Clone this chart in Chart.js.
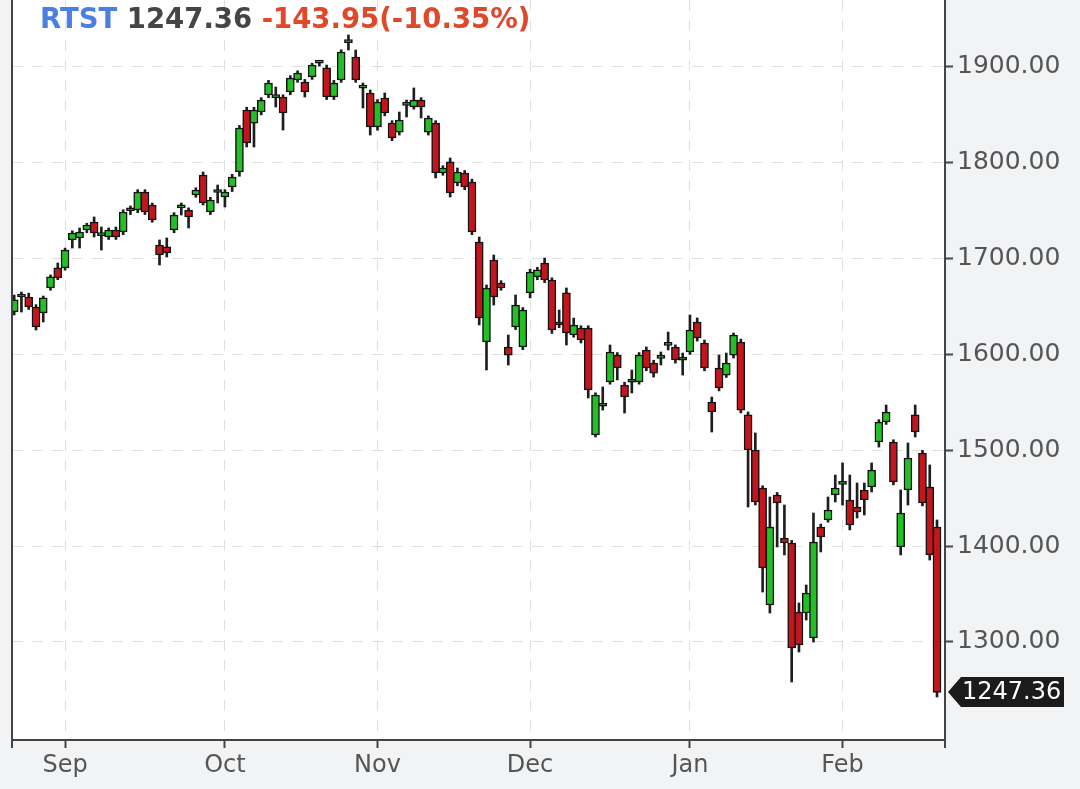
<!DOCTYPE html>
<html lang="en">

<head>
    <meta charset="UTF-8">
    <title>RTST</title>
    <script src="https://cdn.jsdelivr.net/npm/chart.js"></script>
    <style>
        html, body {
            margin: 0;
            padding: 0;
            background: #f2f3f5;
        }
        #wrap {
            width: 1080px;
            height: 789px;
        }
    </style>
</head>

<body>
    <div id="wrap">
        <canvas id="rtsChart" width="1080" height="789"></canvas>
    </div>
    <script>
        // trading days shown on the chart
        const dates = [
            '2021-08-23', '2021-08-24', '2021-08-25', '2021-08-26', '2021-08-27', '2021-08-30', '2021-08-31',
            '2021-09-01', '2021-09-02', '2021-09-03', '2021-09-06', '2021-09-07', '2021-09-08', '2021-09-09', '2021-09-10',
            '2021-09-13', '2021-09-14', '2021-09-15', '2021-09-16', '2021-09-17', '2021-09-20', '2021-09-21', '2021-09-22',
            '2021-09-23', '2021-09-24', '2021-09-27', '2021-09-28', '2021-09-29', '2021-09-30',
            '2021-10-01', '2021-10-04', '2021-10-05', '2021-10-06', '2021-10-07', '2021-10-08', '2021-10-11', '2021-10-12',
            '2021-10-13', '2021-10-14', '2021-10-15', '2021-10-18', '2021-10-19', '2021-10-20', '2021-10-21', '2021-10-22',
            '2021-10-25', '2021-10-26', '2021-10-27', '2021-10-28', '2021-10-29',
            '2021-11-01', '2021-11-02', '2021-11-03', '2021-11-05', '2021-11-08', '2021-11-09', '2021-11-10', '2021-11-11',
            '2021-11-12', '2021-11-15', '2021-11-16', '2021-11-17', '2021-11-18', '2021-11-19', '2021-11-22', '2021-11-23',
            '2021-11-24', '2021-11-25', '2021-11-26', '2021-11-29', '2021-11-30',
            '2021-12-01', '2021-12-02', '2021-12-03', '2021-12-06', '2021-12-07', '2021-12-08', '2021-12-09', '2021-12-10',
            '2021-12-13', '2021-12-14', '2021-12-15', '2021-12-16', '2021-12-17', '2021-12-20', '2021-12-21', '2021-12-22',
            '2021-12-23', '2021-12-24', '2021-12-27', '2021-12-28', '2021-12-29', '2021-12-30',
            '2022-01-03', '2022-01-04', '2022-01-05', '2022-01-06', '2022-01-07', '2022-01-10', '2022-01-11', '2022-01-12',
            '2022-01-13', '2022-01-14', '2022-01-17', '2022-01-18', '2022-01-19', '2022-01-20', '2022-01-21', '2022-01-24',
            '2022-01-25', '2022-01-26', '2022-01-27', '2022-01-28', '2022-01-31',
            '2022-02-01', '2022-02-02', '2022-02-03', '2022-02-04', '2022-02-07', '2022-02-08', '2022-02-09', '2022-02-10',
            '2022-02-11', '2022-02-14', '2022-02-15', '2022-02-16', '2022-02-17', '2022-02-18'
        ];

        const opens = [
            1644.3, 1660.0, 1660.0, 1649.5, 1643.3, 1669.4, 1690.3, 1690.3, 1719.5, 1721.6,
            1729.9, 1738.2, 1724.0, 1722.6, 1729.9, 1727.8, 1750.0, 1750.8, 1769.5, 1756.0,
            1714.2, 1712.2, 1729.9, 1753.0, 1750.8, 1766.4, 1787.3, 1748.7, 1769.0, 1764.3,
            1774.8, 1790.4, 1855.1, 1841.5, 1853.0, 1870.8, 1868.0, 1868.7, 1873.9, 1886.4,
            1884.3, 1889.6, 1904.0, 1899.0, 1868.7, 1886.4, 1925.5, 1910.4, 1878.0, 1872.9,
            1837.4, 1867.6, 1841.5, 1832.1, 1860.0, 1858.2, 1865.5, 1832.1, 1841.5, 1789.4,
            1800.9, 1778.9, 1789.4, 1780.0, 1717.4, 1613.0, 1698.6, 1674.6, 1607.8, 1628.7,
            1607.8, 1664.2, 1680.9, 1695.5, 1677.7, 1633.9, 1664.2, 1620.3, 1627.6, 1627.6,
            1516.0, 1546.0, 1571.3, 1599.4, 1568.1, 1571.0, 1571.3, 1604.7, 1591.1, 1596.0,
            1609.5, 1607.8, 1594.0, 1602.6, 1633.9, 1612.0, 1550.4, 1585.9, 1578.5, 1599.4,
            1613.0, 1536.9, 1500.3, 1460.7, 1338.6, 1453.4, 1408.5, 1403.3, 1331.3, 1330.2,
            1304.1, 1420.0, 1427.3, 1453.4, 1464.5, 1448.1, 1440.8, 1458.6, 1461.7, 1508.7,
            1529.5, 1508.7, 1399.1, 1458.6, 1536.9, 1497.2, 1461.7, 1420.0
        ];
        const highs = [
            1662.0, 1665.2, 1664.0, 1652.0, 1661.0, 1683.0, 1695.5, 1711.0, 1729.0, 1732.0,
            1737.0, 1743.5, 1733.0, 1732.0, 1733.0, 1751.0, 1755.0, 1772.0, 1772.0, 1758.0,
            1719.5, 1721.6, 1748.0, 1758.1, 1753.0, 1774.0, 1790.4, 1764.0, 1776.8, 1772.0,
            1788.0, 1839.0, 1858.0, 1858.0, 1868.0, 1886.0, 1879.1, 1871.0, 1891.0, 1896.0,
            1887.0, 1904.0, 1907.0, 1902.0, 1886.0, 1918.0, 1933.4, 1917.7, 1883.3, 1876.0,
            1866.0, 1872.9, 1844.0, 1853.0, 1865.5, 1878.1, 1868.0, 1849.0, 1844.0, 1797.0,
            1805.0, 1794.6, 1792.0, 1783.0, 1722.6, 1672.5, 1703.8, 1677.0, 1620.3, 1662.1,
            1649.0, 1689.0, 1691.0, 1700.7, 1680.0, 1646.4, 1669.4, 1638.0, 1630.0, 1630.0,
            1560.0, 1566.1, 1609.9, 1602.0, 1571.0, 1583.8, 1602.0, 1607.8, 1594.0, 1602.6,
            1623.4, 1610.0, 1601.5, 1641.2, 1638.1, 1615.0, 1555.6, 1599.4, 1601.5, 1622.4,
            1616.0, 1540.0, 1518.1, 1463.0, 1451.3, 1456.0, 1442.9, 1406.0, 1340.7, 1359.4,
            1434.6, 1423.0, 1451.3, 1474.2, 1486.8, 1474.2, 1465.9, 1465.9, 1486.8, 1532.0,
            1547.3, 1511.0, 1458.6, 1507.6, 1547.3, 1500.0, 1484.7, 1427.3
        ];
        const lows = [
            1641.2, 1644.3, 1647.0, 1625.5, 1633.9, 1667.0, 1678.0, 1688.0, 1711.1, 1711.1,
            1727.0, 1722.6, 1709.0, 1720.0, 1720.0, 1725.0, 1746.0, 1748.0, 1746.0, 1738.0,
            1693.4, 1701.7, 1727.0, 1745.5, 1732.0, 1764.0, 1756.0, 1746.0, 1758.1, 1753.9,
            1770.0, 1786.0, 1816.5, 1816.5, 1850.0, 1868.0, 1858.2, 1834.2, 1871.0, 1884.0,
            1868.7, 1887.0, 1901.0, 1866.0, 1866.0, 1884.0, 1917.7, 1884.0, 1857.2, 1829.0,
            1834.0, 1849.0, 1823.0, 1829.0, 1847.8, 1856.0, 1846.8, 1829.0, 1784.2, 1787.0,
            1764.3, 1776.0, 1772.0, 1725.0, 1630.8, 1583.8, 1651.6, 1667.0, 1589.0, 1626.0,
            1605.0, 1659.0, 1678.0, 1675.0, 1622.0, 1628.0, 1609.9, 1618.0, 1612.0, 1554.6,
            1513.9, 1542.0, 1569.0, 1573.4, 1538.9, 1559.8, 1569.0, 1583.0, 1576.4, 1589.0,
            1604.7, 1591.0, 1578.5, 1600.0, 1614.0, 1583.0, 1519.1, 1562.0, 1576.0, 1596.3,
            1539.0, 1440.8, 1443.0, 1352.1, 1330.2, 1399.1, 1390.8, 1258.2, 1289.5, 1322.9,
            1299.9, 1393.9, 1425.0, 1446.1, 1442.9, 1416.9, 1429.4, 1432.5, 1456.5, 1503.4,
            1527.0, 1464.0, 1390.8, 1442.9, 1513.9, 1442.0, 1385.5, 1242.6
        ];
        const closes = [
            1656.9, 1661.0, 1649.5, 1628.7, 1659.0, 1680.9, 1679.8, 1709.0, 1726.8, 1727.8,
            1735.1, 1726.8, 1725.0, 1729.9, 1722.6, 1748.7, 1751.0, 1769.5, 1748.7, 1740.3,
            1703.8, 1705.9, 1745.5, 1754.0, 1743.5, 1771.6, 1758.1, 1761.2, 1770.0, 1769.5,
            1785.2, 1836.3, 1820.7, 1855.1, 1865.5, 1883.3, 1869.0, 1852.0, 1888.5, 1893.7,
            1873.9, 1902.1, 1905.0, 1868.7, 1883.3, 1915.6, 1926.5, 1886.4, 1879.0, 1837.4,
            1863.5, 1852.0, 1825.9, 1844.7, 1861.0, 1865.5, 1858.2, 1846.8, 1789.4, 1794.6,
            1768.5, 1790.4, 1774.8, 1727.8, 1638.1, 1669.4, 1660.0, 1669.4, 1599.4, 1651.6,
            1646.4, 1686.1, 1688.2, 1677.7, 1625.5, 1630.8, 1622.4, 1630.8, 1615.1, 1562.9,
            1557.7, 1547.0, 1602.6, 1585.9, 1555.6, 1572.0, 1599.4, 1585.9, 1580.6, 1597.0,
            1610.5, 1594.2, 1595.0, 1625.5, 1617.2, 1585.9, 1540.0, 1565.0, 1591.1, 1620.3,
            1542.0, 1500.3, 1446.1, 1377.2, 1420.0, 1445.0, 1403.3, 1293.7, 1296.8, 1351.1,
            1404.3, 1409.5, 1437.7, 1460.7, 1465.5, 1422.1, 1435.6, 1448.1, 1479.4, 1529.5,
            1540.0, 1466.9, 1434.6, 1492.0, 1519.1, 1445.0, 1390.8, 1247.36
        ];

        const yTicks = [1300, 1400, 1500, 1600, 1700, 1800, 1900];
        const monthNames = ['Jan', 'Feb', 'Mar', 'Apr', 'May', 'Jun', 'Jul', 'Aug', 'Sep', 'Oct', 'Nov', 'Dec'];

        const symbol = 'RTST';
        const lastText = '1247.36';
        const changeText = '-143.95(-10.35%)';

        const FONT = 'DejaVu Sans';
        const UP = '#22c025';
        const DOWN = '#c3161c';

        // first trading day of each month gets a tick
        const monthStarts = [];
        dates.forEach((d, i) => {
            if (i > 0 && d.slice(5, 7) !== dates[i - 1].slice(5, 7)) monthStarts.push(i);
        });

        const bodyData = dates.map((d, i) => ({ x: i, y: [opens[i], closes[i]] }));
        const wickData = dates.map((d, i) => ({ x: i, y: [lows[i], highs[i]] }));
        const bodyColors = dates.map((d, i) => closes[i] >= opens[i] ? UP : DOWN);

        const decorPlugin = {
            id: 'decor',
            beforeDraw(chart) {
                const { ctx, chartArea: a } = chart;
                ctx.save();
                ctx.fillStyle = '#ffffff';
                ctx.fillRect(a.left, a.top, a.right - a.left, a.bottom - a.top);
                ctx.restore();
            },
            afterDraw(chart) {
                const { ctx, chartArea: a } = chart;
                const yScale = chart.scales.y;
                ctx.save();

                // left frame line and small end ticks under the x axis
                ctx.strokeStyle = '#444';
                ctx.lineWidth = 2;
                ctx.beginPath();
                ctx.moveTo(a.left, a.top);
                ctx.lineTo(a.left, a.bottom + 8);
                ctx.moveTo(a.right, a.bottom);
                ctx.lineTo(a.right, a.bottom + 8);
                ctx.stroke();

                // last price tag
                const py = Math.round(yScale.getPixelForValue(closes[closes.length - 1]));
                const tx = a.right + 3;
                ctx.fillStyle = '#1b1b1b';
                ctx.beginPath();
                ctx.moveTo(tx, py);
                ctx.lineTo(tx + 13, py - 15);
                ctx.lineTo(1064, py - 15);
                ctx.lineTo(1064, py + 15);
                ctx.lineTo(tx + 13, py + 15);
                ctx.closePath();
                ctx.fill();
                ctx.fillStyle = '#ffffff';
                ctx.font = '24px "' + FONT + '"';
                ctx.textBaseline = 'middle';
                ctx.textAlign = 'left';
                ctx.fillText(lastText, tx + 14, py + 1);

                // header text
                ctx.font = 'bold 27.5px "' + FONT + '"';
                ctx.textBaseline = 'alphabetic';
                let x = 40;
                const y = 28;
                ctx.fillStyle = '#4a7fe3';
                ctx.fillText(symbol, x, y);
                x += ctx.measureText(symbol + ' ').width;
                ctx.fillStyle = '#454545';
                ctx.fillText(lastText, x, y);
                x += ctx.measureText(lastText + ' ').width;
                ctx.fillStyle = '#e0482b';
                ctx.fillText(changeText, x, y);
                ctx.restore();
            }
        };

        const tickFont = { family: FONT, size: 25 };

        new Chart(document.getElementById('rtsChart'), {
            type: 'bar',
            data: {
                datasets: [{
                    label: 'Body',
                    data: bodyData,
                    backgroundColor: bodyColors,
                    borderColor: '#121212',
                    borderWidth: 1.5,
                    borderSkipped: false,
                    barThickness: 8,
                    minBarLength: 3,
                    grouped: false,
                }, {
                    label: 'Wick',
                    data: wickData,
                    backgroundColor: '#1e1e1e',
                    borderWidth: 0,
                    barThickness: 2,
                    grouped: false,
                }],
            },
            options: {
                responsive: false,
                animation: false,
                devicePixelRatio: 1,
                layout: {
                    padding: { left: 12, top: 0, right: 0, bottom: 0 },
                },
                plugins: {
                    legend: { display: false },
                    tooltip: { enabled: false },
                },
                scales: {
                    x: {
                        type: 'linear',
                        min: -0.3,
                        max: 128.1,
                        offset: false,
                        afterBuildTicks: s => { s.ticks = monthStarts.map(i => ({ value: i })); },
                        afterFit: s => {
                            s.height = 49;
                            s.paddingLeft = 0;
                            s.paddingRight = 0;
                        },
                        ticks: {
                            color: '#555',
                            font: { family: FONT, size: 24 },
                            padding: 3,
                            maxRotation: 0,
                            autoSkip: false,
                            callback: v => monthNames[parseInt(dates[v].slice(5, 7), 10) - 1],
                        },
                        grid: {
                            offset: false,
                            color: '#e0e0e0',
                            tickColor: '#444',
                            tickLength: 8,
                            tickWidth: 2,
                        },
                        border: {
                            color: '#444',
                            width: 2,
                            dash: [11, 9],
                        },
                    },
                    y: {
                        position: 'right',
                        min: 1197.7,
                        max: 1969.9,
                        afterBuildTicks: s => { s.ticks = yTicks.map(v => ({ value: v })); },
                        afterFit: s => {
                            s.width = 135;
                            s.paddingTop = 0;
                            s.paddingBottom = 0;
                        },
                        ticks: {
                            color: '#555',
                            font: tickFont,
                            padding: 4,
                            callback: v => v.toFixed(2),
                        },
                        grid: {
                            color: '#e0e0e0',
                            tickColor: '#444',
                            tickLength: 8,
                            tickWidth: 2,
                        },
                        border: {
                            color: '#444',
                            width: 2,
                            dash: [11, 9],
                        },
                    },
                },
            },
            plugins: [decorPlugin],
        });
    </script>
</body>
</html>
